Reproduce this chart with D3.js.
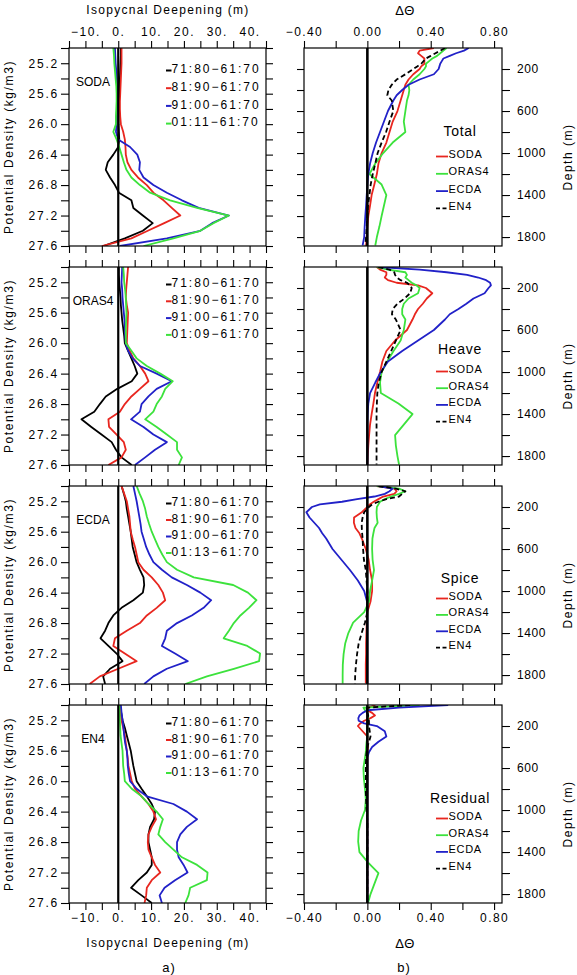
<!DOCTYPE html>
<html><head><meta charset="utf-8">
<script src="https://cdn.jsdelivr.net/npm/d3@7"></script>
<style>body{margin:0;background:#fff}svg{display:block}</style>
</head><body><svg id="c" width="577" height="975"></svg>
<script>
// ---------------- DATA ----------------
const densityLevels = [25.0,25.1,25.2,25.3,25.4,25.5,25.6,25.7,25.8,25.9,26.0,26.1,26.2,26.3,26.4,26.5,26.6,26.7,26.8,26.9,27.0,27.1,27.2,27.3,27.4,27.5,27.6];
const depthLevels = [0,25,50,75,100,125,150,175,200,250,300,350,400,450,500,600,700,800,900,1000,1100,1200,1300,1400,1500,1600,1700,1800,1880];

const isoTickValues = [-15,-10,-5,0,5,10,15,20,25,30,35,40,45];
const isoTickLabels = [-10,0,10,20,30,40];
const densTickValues = [25.0,25.2,25.4,25.6,25.8,26.0,26.2,26.4,26.6,26.8,27.0,27.2,27.4,27.6];
const densTickLabels = [25.2,25.6,26.0,26.4,26.8,27.2,27.6];
const thetaTickValues = [-0.4,-0.2,0,0.2,0.4,0.6,0.8];
const thetaTickLabels = [-0.4,0,0.4,0.8];
const depthTickValues = [200,400,600,800,1000,1200,1400,1600,1800];
const depthTickLabels = [200,600,1000,1400,1800];

const productNames = ["SODA","ORAS4","ECDA","EN4"];
const sodaPeriods = ["71:80−61:70","81:90−61:70","91:00−61:70","01:11−61:70"];
const orasPeriods = ["71:80−61:70","81:90−61:70","91:00−61:70","01:09−61:70"];
const ecdaPeriods = ["71:80−61:70","81:90−61:70","91:00−61:70","01:13−61:70"];
const en4Periods  = ["71:80−61:70","81:90−61:70","91:00−61:70","01:13−61:70"];
const componentNames = ["Total","Heave","Spice","Residual"];

// Isopycnal deepening (m) vs density
const soda7180 = [0.8,0.8,0.7,0.6,0.5,0.4,0.3,0.2,0.1,0.1,0.1,0.2,0.3,0.0,-1.5,-3.2,-3.8,-2.5,-1.0,0.2,4.0,4.6,7.5,10.5,7.5,2.0,-4.5];
const soda8190 = [1.0,1.0,1.0,0.9,0.8,0.7,0.6,0.5,0.5,0.6,0.8,1.5,2.0,2.2,2.3,2.8,4.0,6.0,8.7,10.7,13.8,16.3,18.9,14.0,9.0,4.0,-5.0];
const soda9100 = [-1.0,-0.9,-0.8,-0.6,-0.5,-0.4,-0.3,-0.3,-0.4,-0.5,-0.5,-0.7,0.0,3.6,5.8,6.6,6.4,7.7,10.7,14.8,19.4,24.5,33.7,28.6,25.0,14.8,0.5];
const soda0111 = [-1.5,-1.3,-1.2,-1.0,-0.8,-0.6,-0.5,-0.5,-0.6,-0.7,-0.7,-1.5,-0.5,0.3,1.0,1.7,2.5,4.0,6.6,9.7,15.8,24.0,33.7,29.0,25.0,16.8,7.7];

const oras7180 = [0.2,0.2,0.3,0.5,0.7,0.8,1.0,1.2,1.5,1.8,2.0,3.0,4.0,5.0,5.8,4.1,-0.3,-3.8,-5.6,-7.3,-11.2,-8.2,-5.1,-2.0,-0.7,1.0,4.1];
const oras8190 = [3.0,2.8,2.6,2.4,2.3,2.6,3.0,2.9,2.8,2.7,2.6,3.5,4.6,6.6,8.2,9.2,6.6,4.0,2.0,0.5,-3.0,-2.8,-0.5,1.7,2.3,1.0,-3.0];
const oras9100 = [1.2,1.1,1.0,1.2,1.3,1.5,1.7,1.9,2.0,2.1,2.3,3.0,4.4,6.6,11.7,16.3,11.7,9.2,7.1,6.6,3.9,7.7,10.7,14.8,11.2,8.2,5.1];
const oras0109 = [1.5,1.7,1.8,2.1,2.3,2.4,2.5,2.4,2.3,2.3,2.3,4.0,5.6,8.7,12.8,16.6,14.3,13.3,11.7,10.7,8.2,11.7,14.8,17.9,17.9,19.4,18.4];

const ecda7180 = [1.0,1.7,2.3,2.6,3.0,3.4,3.8,4.1,4.4,5.0,5.6,6.6,7.7,7.9,7.5,4.6,1.0,-1.5,-3.0,-4.0,-5.4,-3.0,-0.5,1.3,-2.5,-4.6,-4.0];
const ecda8190 = [1.0,1.8,2.6,3.0,3.4,3.6,3.8,4.4,5.1,5.6,6.1,7.7,10.2,12.2,13.6,14.3,11.7,8.7,6.6,2.6,-1.0,-1.5,2.0,5.6,0.0,-5.6,-8.7];
const ecda9100 = [4.6,5.1,5.6,6.0,6.4,6.8,7.1,7.8,8.5,9.5,10.7,13.3,16.3,20.9,25.0,28.3,26.0,22.4,17.9,14.8,14.3,13.3,17.3,21.2,14.8,10.7,7.9];
const ecda0113 = [5.6,6.5,7.5,8.2,8.7,9.4,10.2,11.2,12.2,13.4,14.8,17.9,23.0,35.0,39.5,42.1,39.8,37.2,35.2,33.7,32.1,39.3,43.2,42.9,35.2,27.0,20.4];

const en47180 = [0.5,0.9,1.3,2.0,2.6,3.2,3.8,4.2,4.6,5.1,5.6,7.1,8.7,10.2,11.2,10.9,9.7,9.2,9.2,9.7,10.2,10.2,8.7,6.1,3.9,7.1,10.2];
const en48190 = [0.3,0.7,1.0,1.5,2.0,2.3,2.6,2.9,3.1,3.6,4.1,5.1,7.1,9.2,10.7,11.5,10.2,9.2,9.0,9.2,10.2,11.2,12.8,10.2,8.7,8.5,8.0];
const en49100 = [0.8,1.0,1.3,1.6,1.8,2.1,2.6,2.8,2.9,3.2,3.6,5.6,8.7,16.8,20.9,24.0,20.9,18.9,17.9,17.9,18.4,19.9,21.1,17.3,14.1,12.6,13.3];
const en40113 = [0.3,0.4,0.5,0.6,0.7,1.0,1.3,1.4,1.5,1.8,2.0,4.1,7.1,9.2,11.7,13.6,12.8,12.2,14.3,16.8,19.4,24.0,27.2,27.0,21.9,21.4,20.4];

// Delta theta vs depth
const totalSoda  = [0.42,0.33,0.32,0.34,0.36,0.36,0.36,0.34,0.33,0.29,0.26,0.24,0.23,0.22,0.21,0.19,0.16,0.14,0.12,0.09,0.07,0.06,0.044,0.027,0.017,0.006,0.0,-0.004,-0.008];
const totalOras4 = [0.50,0.48,0.46,0.44,0.41,0.39,0.37,0.37,0.36,0.33,0.29,0.26,0.265,0.26,0.25,0.24,0.23,0.24,0.16,0.10,0.05,0.013,0.09,0.12,0.105,0.09,0.076,0.06,0.05];
const totalEcda  = [0.64,0.61,0.56,0.52,0.48,0.47,0.46,0.455,0.45,0.42,0.33,0.26,0.22,0.185,0.164,0.13,0.105,0.08,0.055,0.034,0.017,0.006,0.0,-0.004,-0.008,-0.013,-0.017,-0.02,-0.03];
const totalEn4   = [0.49,0.46,0.43,0.40,0.37,0.355,0.34,0.315,0.29,0.24,0.185,0.154,0.133,0.126,0.154,0.164,0.14,0.118,0.09,0.065,0.05,0.034,0.021,0.013,0.004,0.0,-0.004,-0.008,-0.013];

const heaveSoda  = [0.06,0.08,0.12,0.12,0.11,0.13,0.185,0.32,0.37,0.41,0.375,0.35,0.32,0.30,0.285,0.25,0.175,0.12,0.095,0.08,0.063,0.048,0.038,0.027,0.017,0.011,0.006,0.002,0.0];
const heaveOras4 = [0.06,0.13,0.24,0.25,0.24,0.26,0.28,0.31,0.33,0.32,0.26,0.23,0.22,0.22,0.24,0.23,0.21,0.165,0.125,0.09,0.08,0.085,0.196,0.285,0.23,0.175,0.18,0.19,0.2];
const heaveEcda  = [0.07,0.33,0.50,0.63,0.70,0.75,0.775,0.78,0.765,0.74,0.67,0.625,0.575,0.52,0.49,0.42,0.32,0.22,0.13,0.085,0.05,0.017,0.006,0.002,0.0,0.0,0.0,0.0,0.0];
const heaveEn4   = [0.07,0.14,0.17,0.175,0.185,0.21,0.25,0.27,0.28,0.27,0.235,0.19,0.16,0.155,0.18,0.21,0.18,0.15,0.12,0.09,0.072,0.063,0.06,0.058,0.058,0.058,0.058,0.058,0.058];

const spiceSoda  = [0.06,0.17,0.185,0.17,0.10,0.07,0.04,0.015,0.0,-0.035,-0.084,-0.085,-0.075,-0.05,-0.035,-0.01,0.008,0.017,0.03,0.03,0.02,0.0,-0.004,-0.006,-0.008,-0.008,-0.01,-0.01,-0.01];
const spiceOras4 = [0.06,0.2,0.24,0.2,0.15,0.11,0.08,0.07,0.06,0.058,0.06,0.065,0.045,0.038,0.032,0.03,0.033,0.042,0.03,0.017,0.01,-0.02,-0.09,-0.12,-0.14,-0.15,-0.155,-0.156,-0.156];
const spiceEcda  = [0.07,0.16,0.14,0.11,0.045,-0.065,-0.16,-0.30,-0.35,-0.385,-0.365,-0.335,-0.305,-0.285,-0.26,-0.22,-0.165,-0.11,-0.06,-0.02,-0.002,0.0,0.0,0.0,0.0,0.0,0.0,0.0,0.0];
const spiceEn4   = [0.07,0.18,0.24,0.22,0.2,0.12,0.07,0.03,0.01,-0.02,-0.03,-0.036,-0.035,-0.033,-0.03,-0.027,-0.022,-0.01,-0.005,0.0,0.0,0.0,-0.015,-0.036,-0.055,-0.065,-0.072,-0.077,-0.078];

const residSoda  = [0.05,0.01,0.0,0.03,0.048,0.02,-0.02,-0.045,-0.06,-0.03,0.0,0.0,0.004,0.0,0.0,0.0,0.0,0.0,0.0,0.0,0.0,0.0,0.0,0.0,0.0,0.0,0.0,0.0,0.0];
const residOras4 = [0.33,-0.025,-0.015,0.0,0.006,0.004,0.0,0.0,0.0,0.0,0.0,-0.005,-0.008,-0.01,-0.015,-0.025,-0.022,-0.015,-0.01,-0.015,-0.04,-0.055,-0.058,-0.05,0.005,0.07,0.045,0.02,0.005];
const residEcda  = [0.51,0.2,0.0,-0.03,-0.05,-0.057,-0.055,-0.02,0.06,0.11,0.12,0.07,0.03,0.01,0.0,0.0,0.0,0.0,0.0,0.0,0.0,0.0,0.0,0.0,0.0,0.0,0.0,0.0,0.0];
const residEn4   = [0.27,0.0,-0.01,0.0,0.005,0.005,0.01,0.01,0.01,0.015,0.02,0.01,0.0,-0.005,-0.008,-0.01,-0.01,-0.01,-0.008,-0.005,0.0,0.0,0.0,0.0,0.0,0.0,0.0,0.0,0.0];

// --------------- LAYOUT ---------------
const leftPanels = [
  {name: productNames[0], periods: sodaPeriods, series: [soda7180, soda8190, soda9100, soda0111], legTop: 21, legStep: 17.7},
  {name: productNames[1], periods: orasPeriods, series: [oras7180, oras8190, oras9100, oras0109], legTop: 16, legStep: 16.8},
  {name: productNames[2], periods: ecdaPeriods, series: [ecda7180, ecda8190, ecda9100, ecda0113], legTop: 16, legStep: 16.5},
  {name: productNames[3], periods: en4Periods,  series: [en47180, en48190, en49100, en40113], legTop: 17, legStep: 16.5}
];
const rightPanels = [
  {name: componentNames[0], series: [totalSoda, totalOras4, totalEcda, totalEn4], titleY: 83, entY: 106, step: 17.3},
  {name: componentNames[1], series: [heaveSoda, heaveOras4, heaveEcda, heaveEn4], titleY: 82, entY: 102, step: 16.7},
  {name: componentNames[2], series: [spiceSoda, spiceOras4, spiceEcda, spiceEn4], titleY: 92, entY: 110, step: 16.4},
  {name: componentNames[3], series: [residSoda, residOras4, residEcda, residEn4], titleY: 93, entY: 111, step: 16.7}
];

const FONT = "'Liberation Sans', Arial, Helvetica, sans-serif";
const RED = "#e8261f", GREEN = "#3ce23c", BLUE = "#2121c8", BLACK = "#000";
const leftColors = [BLACK, RED, BLUE, GREEN];
const rightColors = [RED, GREEN, BLUE, BLACK];

const LX0 = 69, LX1 = 266, RX0 = 304, RX1 = 502;
const TOP0 = 48, PSTEP = 219, PH = 198, TICK = 7;

const svg = d3.select("#c");
svg.append("rect").attr("width", 577).attr("height", 975).attr("fill", "#fff");

const xIso = d3.scaleLinear().domain([-15, 45]).range([LX0, LX1]);
const xTh = d3.scaleLinear().domain([-0.4, 0.85]).range([RX0, RX1]);
const minus = s => s.replace("-", "−");
const fmtIso = v => isoTickLabels.includes(v) ? minus(d3.format("d")(v)) + "." : "";
const fmtTh = v => thetaTickLabels.some(t => Math.abs(t - v) < 1e-9) ? minus(d3.format(".2f")(v)) : "";
const fmtDen = v => densTickLabels.some(t => Math.abs(t - v) < 1e-9) ? d3.format(".1f")(v) : "";
const fmtDep = v => depthTickLabels.includes(v) ? String(v) : "";

function styleAxis(g, fs, ls) {
  g.select(".domain").remove();
  g.selectAll(".tick line").attr("stroke", "#000").attr("stroke-width", 1.1);
  g.selectAll(".tick text").attr("font-family", FONT).attr("font-size", fs)
    .attr("letter-spacing", ls).attr("fill", "#000");
}

leftPanels.forEach((p, i) => {
  const top = TOP0 + i * PSTEP, bot = top + PH;
  const y = d3.scaleLinear().domain([25.0, 27.6]).range([top, bot]);
  const g = svg.append("g");
  const clipId = "cl" + i;
  g.append("clipPath").attr("id", clipId).append("rect")
    .attr("x", LX0).attr("y", top).attr("width", LX1 - LX0).attr("height", PH);

  // axes
  g.append("g").attr("transform", `translate(0,${top})`)
    .call(d3.axisTop(xIso).tickValues(isoTickValues).tickSize(TICK).tickPadding(5).tickFormat(i === 0 ? fmtIso : () => ""))
    .call(a => styleAxis(a, 12, 1.5));
  g.append("g").attr("transform", `translate(0,${bot})`)
    .call(d3.axisBottom(xIso).tickValues(isoTickValues).tickSize(TICK).tickPadding(3).tickFormat(i === 3 ? fmtIso : () => ""))
    .call(a => styleAxis(a, 12, 1.5));
  g.append("g").attr("transform", `translate(${LX0},0)`)
    .call(d3.axisLeft(y).tickValues(densTickValues).tickSize(TICK + 1).tickPadding(2).tickFormat(fmtDen))
    .call(a => styleAxis(a, 12, 1.8));
  g.append("g").attr("transform", `translate(${LX1},0)`)
    .call(d3.axisRight(y).tickValues(densTickValues).tickSize(TICK).tickFormat(() => ""))
    .call(a => styleAxis(a, 12, 0));

  const line = d3.line().x(d => xIso(d[0])).y(d => y(d[1]));
  const lines = g.append("g").attr("clip-path", `url(#${clipId})`);
  p.series.forEach((s, k) => {
    lines.append("path").datum(s.map((v, j) => [v, densityLevels[j]]))
      .attr("d", line).attr("fill", "none").attr("stroke", leftColors[k])
      .attr("stroke-width", 1.8).attr("stroke-linejoin", "round");
  });
  // zero line
  g.append("line").attr("x1", xIso(0)).attr("x2", xIso(0)).attr("y1", top).attr("y2", bot)
    .attr("stroke", "#000").attr("stroke-width", 2.2);
  g.append("rect").attr("x", LX0).attr("y", top).attr("width", LX1 - LX0).attr("height", PH)
    .attr("fill", "none").attr("stroke", "#000").attr("stroke-width", 1.2);

  // product name
  g.append("text").attr("x", 93).attr("y", top + 34).attr("dy", "0.35em")
    .attr("text-anchor", "middle").attr("font-family", FONT).attr("font-size", 12).text(p.name);
  // legend
  p.periods.forEach((lab, k) => {
    const yy = top + p.legTop + k * p.legStep;
    g.append("line").attr("x1", 166).attr("x2", 171.5).attr("y1", yy + 1.5).attr("y2", yy + 1.5)
      .attr("stroke", leftColors[k]).attr("stroke-width", 2);
    g.append("text").attr("x", 171.5).attr("y", yy).attr("dy", "0.36em")
      .attr("font-family", FONT).attr("font-size", 12).attr("letter-spacing", 2).text(lab);
  });
});

rightPanels.forEach((p, i) => {
  const top = TOP0 + i * PSTEP, bot = top + PH;
  const y = d3.scaleLinear().domain([0, 1885]).range([top, bot]);
  const g = svg.append("g");
  const clipId = "cr" + i;
  g.append("clipPath").attr("id", clipId).append("rect")
    .attr("x", RX0).attr("y", top).attr("width", RX1 - RX0).attr("height", PH);

  g.append("g").attr("transform", `translate(0,${top})`)
    .call(d3.axisTop(xTh).tickValues(thetaTickValues).tickSize(TICK).tickPadding(5).tickFormat(i === 0 ? fmtTh : () => ""))
    .call(a => styleAxis(a, 12, 1.4));
  g.append("g").attr("transform", `translate(0,${bot})`)
    .call(d3.axisBottom(xTh).tickValues(thetaTickValues).tickSize(TICK).tickPadding(3).tickFormat(i === 3 ? fmtTh : () => ""))
    .call(a => styleAxis(a, 12, 1.4));
  g.append("g").attr("transform", `translate(${RX0},0)`)
    .call(d3.axisLeft(y).tickValues(depthTickValues).tickSize(TICK).tickFormat(() => ""))
    .call(a => styleAxis(a, 12, 0));
  g.append("g").attr("transform", `translate(${RX1},0)`)
    .call(d3.axisRight(y).tickValues(depthTickValues).tickSize(TICK + 1).tickPadding(7).tickFormat(fmtDep))
    .call(a => styleAxis(a, 12, 0.6));

  const line = d3.line().x(d => xTh(d[0])).y(d => y(d[1]));
  const lines = g.append("g").attr("clip-path", `url(#${clipId})`);
  p.series.forEach((s, k) => {
    lines.append("path").datum(s.map((v, j) => [v, depthLevels[j]]))
      .attr("d", line).attr("fill", "none").attr("stroke", rightColors[k])
      .attr("stroke-width", 1.8).attr("stroke-linejoin", "round")
      .attr("stroke-dasharray", k === 3 ? "5,3" : null);
  });
  g.append("line").attr("x1", xTh(0)).attr("x2", xTh(0)).attr("y1", top).attr("y2", bot)
    .attr("stroke", "#000").attr("stroke-width", 2.6);
  g.append("rect").attr("x", RX0).attr("y", top).attr("width", RX1 - RX0).attr("height", PH)
    .attr("fill", "none").attr("stroke", "#000").attr("stroke-width", 1.2);

  // legend
  g.append("text").attr("x", 460).attr("y", top + p.titleY).attr("dy", "0.35em")
    .attr("text-anchor", "middle").attr("font-family", FONT).attr("font-size", 14)
    .attr("letter-spacing", 0.7).text(p.name);
  productNames.forEach((nm, k) => {
    const yy = top + p.entY + k * p.step;
    g.append("line").attr("x1", 436).attr("x2", 448).attr("y1", yy + 2.5).attr("y2", yy + 2.5)
      .attr("stroke", rightColors[k]).attr("stroke-width", 1.8)
      .attr("stroke-dasharray", k === 3 ? "4,2.5" : null);
    g.append("text").attr("x", 448.5).attr("y", yy).attr("dy", "0.36em")
      .attr("font-family", FONT).attr("font-size", 11).attr("letter-spacing", 0.7).text(nm);
  });

  // depth label
  g.append("text").attr("transform", `translate(572,${top + PH / 2 + 10}) rotate(-90)`)
    .attr("text-anchor", "middle").attr("font-family", FONT).attr("font-size", 12)
    .attr("letter-spacing", 1.5).text("Depth  (m)");
});

// Left y labels
leftPanels.forEach((p, i) => {
  const top = TOP0 + i * PSTEP;
  svg.append("text").attr("transform", `translate(13,${top + PH / 2}) rotate(-90)`)
    .attr("text-anchor", "middle").attr("font-family", FONT).attr("font-size", 12)
    .attr("letter-spacing", 1.6).text("Potential Density (kg/m3)");
});

// Titles
function txt(x, y, s, fs, ls) {
  svg.append("text").attr("x", x).attr("y", y).attr("dy", "0.35em").attr("text-anchor", "middle")
    .attr("font-family", FONT).attr("font-size", fs).attr("letter-spacing", ls).text(s);
}
txt(168, 10, "Isopycnal Deepening (m)", 12, 1.3);
txt(405, 10, "ΔΘ", 13, 0.5);
txt(168, 943, "Isopycnal Deepening (m)", 12, 1.3);
txt(405, 943, "ΔΘ", 13, 0.5);
txt(169, 967, "a)", 13, 1);
txt(404, 967, "b)", 13, 1);
</script></body></html>
